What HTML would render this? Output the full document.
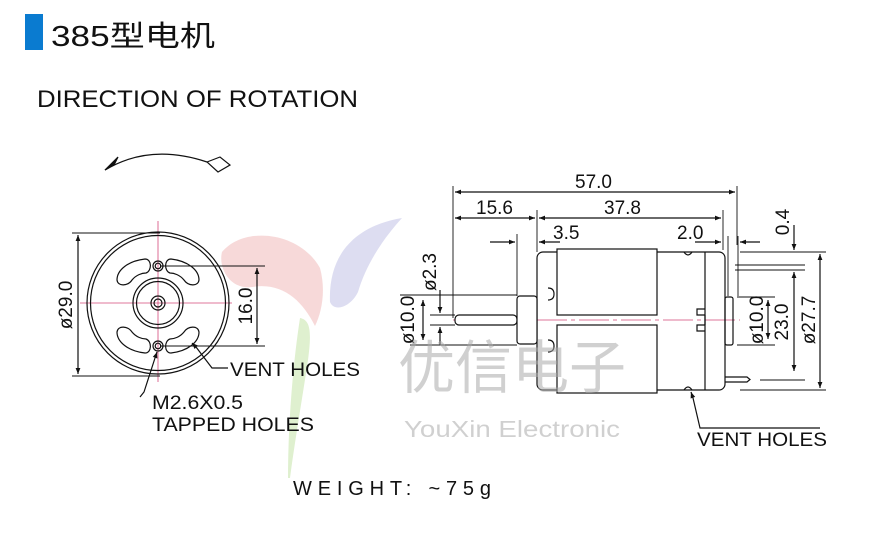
<!DOCTYPE html>
<html><head><meta charset="utf-8"><style>
html,body{margin:0;padding:0;background:#fff;}
svg{display:block;}
text{font-family:"Liberation Sans","Noto Sans CJK SC",sans-serif;}
</style></head><body>
<svg width="886" height="534" viewBox="0 0 886 534" xmlns="http://www.w3.org/2000/svg">
<defs>
<marker id="a" viewBox="0 0 10 10" refX="10" refY="5" markerWidth="9" markerHeight="6" orient="auto-start-reverse" markerUnits="userSpaceOnUse"><path d="M0,1 L10,5 L0,9 Z" fill="#111"/></marker>
</defs>
<!-- watermark logo -->
<path d="M222,252 C245,225 300,232 320,268 C326,290 322,312 315,326 C302,300 282,282 252,287 C230,290 218,268 222,252Z" fill="#f3c9c9" opacity="0.7"/>
<path d="M330,302 C328,250 360,225 402,218 C382,240 366,265 358,292 C350,308 334,312 330,302Z" fill="#d5d5ee" opacity="0.8"/>
<path d="M300,318 C310,320 312,330 308,360 C302,400 295,440 290,478 L288,478 C288,430 292,370 300,318Z" fill="#dff0cf"/>

<!-- title -->
<rect x="25" y="14" width="18" height="36" fill="#0a7bd0"/>
<text x="51" y="46" font-size="29" fill="#111" textLength="164" lengthAdjust="spacingAndGlyphs">385型电机</text>
<text x="37" y="107" font-size="24" fill="#111" textLength="321" lengthAdjust="spacingAndGlyphs">DIRECTION OF ROTATION</text>

<g stroke="#111" fill="none" stroke-width="1.2">
<!-- rotation arrow -->
<path d="M105,170 Q150,143 207,162"/>
<path d="M105,170 L118,157 L114,165 Z" fill="#111"/>
<path d="M207,162 L220,157 L230,165 L218,172 Z" fill="#fff"/>

<!-- front view -->
<line x1="158" y1="221" x2="158" y2="382" stroke="#d44a7a" stroke-width="0.8"/>
<line x1="80" y1="303" x2="232" y2="303" stroke="#d44a7a" stroke-width="0.8"/>
<circle cx="158" cy="303" r="71"/>
<circle cx="158" cy="303" r="67.5"/>
<circle cx="158" cy="303" r="25"/>
<circle cx="158" cy="303" r="21.5"/>
<circle cx="158" cy="303" r="7"/>
<circle cx="158" cy="303" r="4"/>
<circle cx="158" cy="266" r="5"/><circle cx="158" cy="266" r="2.8"/>
<circle cx="158" cy="346" r="5"/><circle cx="158" cy="346" r="2.8"/>
<path d="M145,259 C128,261 117,270 117,280 C118,287 128,286 132,280 C136,275 142,273 146,273 C152,271 152,259 145,259Z"/>
<path d="M171,259 C188,261 199,270 199,280 C198,287 188,286 184,280 C180,275 174,273 170,273 C164,271 164,259 171,259Z"/>
<path d="M145,353 C128,351 117,342 117,332 C118,325 128,326 132,332 C136,337 142,339 146,339 C152,341 152,353 145,353Z"/>
<path d="M171,353 C188,351 199,342 199,332 C198,325 188,326 184,332 C180,337 174,339 170,339 C164,341 164,353 171,353Z"/>
<line x1="72" y1="233" x2="160" y2="233" stroke-width="1"/>
<line x1="72" y1="376" x2="160" y2="376" stroke-width="1"/>
<line x1="78" y1="235" x2="78" y2="374" marker-start="url(#a)" marker-end="url(#a)"/>
<line x1="160" y1="266" x2="265" y2="266" stroke-width="1"/>
<line x1="160" y1="346" x2="265" y2="346" stroke-width="1"/>
<line x1="257" y1="268" x2="257" y2="344" marker-start="url(#a)" marker-end="url(#a)"/>
<polyline points="228,368 212,368 196,347" />
<line x1="196" y1="347" x2="192" y2="343" marker-end="url(#a)"/>
<polyline points="140,397 144,392 155,358"/>
<line x1="155" y1="358" x2="157" y2="352" marker-end="url(#a)"/>

<!-- side view -->
<line x1="453" y1="320" x2="740" y2="320" stroke="#d44a7a" stroke-width="0.7" stroke-dasharray="30,4,4,4"/>
<rect x="537" y="252" width="188" height="138" rx="6"/>
<rect x="557" y="249" width="100" height="66" fill="#fff"/>
<rect x="557" y="325" width="100" height="68" fill="#fff"/>
<line x1="705" y1="252" x2="705" y2="390"/>
<path d="M548,288 q6,0 6,6 q0,6 -6,6"/>
<path d="M548,340 q6,0 6,6 q0,6 -6,6"/>
<path d="M684,252 q4,6 8,0"/>
<path d="M684,390 q4,-6 8,0"/>
<path d="M705,309 h-8 v6 h8 M705,325 h-8 v6 h8 M705,315 v10"/>
<rect x="455" y="315" width="62" height="10" rx="4" fill="#fff"/>
<rect x="517" y="296" width="20" height="48" rx="3" fill="#fff"/>
<rect x="725" y="297" width="8" height="48" rx="2"/>
<path d="M725,377 h22 l3,2.5 l-3,2.5 h-22"/>
<!-- dims -->
<g stroke-width="0.9">
<line x1="453" y1="186" x2="453" y2="318"/>
<line x1="737" y1="186" x2="737" y2="245"/>
<line x1="537" y1="210" x2="537" y2="252"/>
<line x1="723" y1="210" x2="723" y2="250"/>
<line x1="517" y1="234" x2="517" y2="296"/>
<line x1="728" y1="236" x2="728" y2="296"/>
<line x1="738" y1="236" x2="738" y2="296"/>
<line x1="740" y1="252" x2="826" y2="252"/>
<line x1="735" y1="265" x2="805" y2="265"/>
<line x1="735" y1="270" x2="805" y2="270"/>
<line x1="737" y1="297" x2="775" y2="297"/>
<line x1="737" y1="345" x2="775" y2="345"/>
<line x1="760" y1="380" x2="805" y2="380"/>
<line x1="740" y1="390" x2="826" y2="390"/>
<line x1="400" y1="295" x2="517" y2="295"/>
<line x1="410" y1="345" x2="517" y2="345"/>
<line x1="430" y1="315" x2="455" y2="315"/>
<line x1="430" y1="325" x2="455" y2="325"/>
</g>
<line x1="455" y1="192" x2="735" y2="192" marker-start="url(#a)" marker-end="url(#a)"/>
<line x1="455" y1="218" x2="535" y2="218" marker-start="url(#a)" marker-end="url(#a)"/>
<line x1="539" y1="218" x2="721" y2="218" marker-start="url(#a)" marker-end="url(#a)"/>
<line x1="490" y1="242" x2="515" y2="242" marker-end="url(#a)"/>
<line x1="560" y1="242" x2="539" y2="242" marker-end="url(#a)"/>
<line x1="695" y1="242" x2="721" y2="242" marker-end="url(#a)"/>
<line x1="760" y1="242" x2="740" y2="242" marker-end="url(#a)"/>
<line x1="794" y1="225" x2="794" y2="250" marker-end="url(#a)"/>
<line x1="794" y1="272" x2="794" y2="371" marker-start="url(#a)" marker-end="url(#a)"/>
<line x1="820" y1="254" x2="820" y2="388" marker-start="url(#a)" marker-end="url(#a)"/>
<line x1="768" y1="300" x2="768" y2="339" marker-start="url(#a)" marker-end="url(#a)"/>
<line x1="423" y1="300" x2="423" y2="340" marker-start="url(#a)" marker-end="url(#a)"/>
<line x1="440" y1="290" x2="440" y2="313" marker-end="url(#a)"/>
<line x1="440" y1="345" x2="440" y2="327" marker-end="url(#a)"/>
<polyline points="820,428 700,428 693,398"/>
<line x1="693" y1="398" x2="691" y2="392" marker-end="url(#a)"/>
</g>

<g fill="#111" font-size="19">
<text x="230" y="376" textLength="130" lengthAdjust="spacingAndGlyphs">VENT HOLES</text>
<text x="152" y="409" textLength="91" lengthAdjust="spacingAndGlyphs">M2.6X0.5</text>
<text x="152" y="431" textLength="162" lengthAdjust="spacingAndGlyphs">TAPPED HOLES</text>
<text x="697" y="446" textLength="130" lengthAdjust="spacingAndGlyphs">VENT HOLES</text>
<text x="293" y="495" font-size="20" letter-spacing="2" textLength="200" lengthAdjust="spacing">WEIGHT: ~75g</text>
<text x="575" y="188">57.0</text>
<text x="476" y="214">15.6</text>
<text x="604" y="214">37.8</text>
<text x="553" y="239">3.5</text>
<text x="677" y="239">2.0</text>
<text transform="translate(72,305) rotate(-90)" text-anchor="middle">ø29.0</text>
<text transform="translate(252,306) rotate(-90)" text-anchor="middle">16.0</text>
<text transform="translate(414,320) rotate(-90)" text-anchor="middle">ø10.0</text>
<text transform="translate(436,272) rotate(-90)" text-anchor="middle">ø2.3</text>
<text transform="translate(763,320) rotate(-90)" text-anchor="middle">ø10.0</text>
<text transform="translate(788,322) rotate(-90)" text-anchor="middle">23.0</text>
<text transform="translate(815,320) rotate(-90)" text-anchor="middle">ø27.7</text>
<text transform="translate(789,222) rotate(-90)" text-anchor="middle">0.4</text>
</g>
<!-- watermark text on top -->
<text x="398" y="388" font-size="58" fill="#aaa" fill-opacity="0.55" textLength="228" lengthAdjust="spacingAndGlyphs">优信电子</text>
<text x="404" y="437" font-size="23" fill="#aaa" fill-opacity="0.55" textLength="216" lengthAdjust="spacingAndGlyphs">YouXin Electronic</text>
</svg>
</body></html>
